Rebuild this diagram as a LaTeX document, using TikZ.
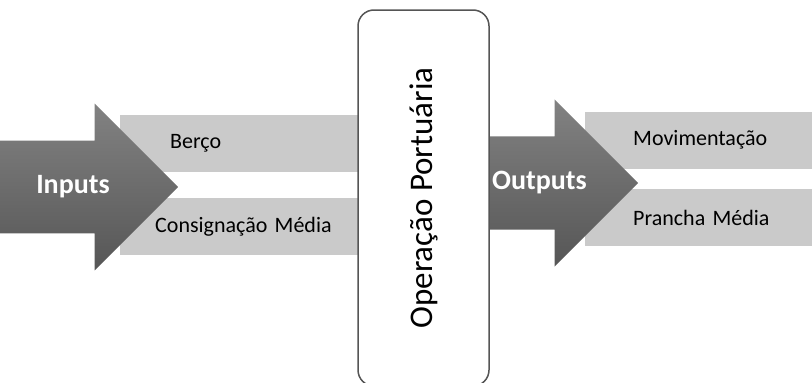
\documentclass[tikz,border=0pt]{standalone}
\usepackage{fontspec}
\setmainfont{Carlito}
\usetikzlibrary{shapes.arrows, positioning}
\definecolor{arrowTop}{RGB}{130,130,130}
\definecolor{arrowBot}{RGB}{86,86,86}
\definecolor{barGray}{RGB}{202,202,202}
\definecolor{boxLine}{RGB}{85,85,85}
\tikzstyle{bigarrow} = [single arrow, single arrow head extend=37pt, inner xsep=0pt,
inner ysep=35pt, top color=arrowTop, bottom color=arrowBot, text=white,
font=\fontsize{28}{32}\selectfont\bfseries]
\tikzstyle{bar} = [rectangle, fill=barGray, minimum height=57pt, anchor=west, align=left,
inner ysep=0pt, font=\fontsize{22}{26}\selectfont]
\tikzstyle{centralbox} = [rectangle, rounded corners=16pt, draw=boxLine, line width=1.5pt,
fill=white, rotate=90, minimum width=376pt, minimum height=131pt,
font=\fontsize{33}{40}\selectfont]

\begin{document}
\begin{tikzpicture}[x=1pt, y=-1pt]
    \useasboundingbox (0,0) rectangle (812,383);

    %Bars
    \node (berco) [bar, inner xsep=50pt, text width=200pt] at (120,143.5) {Berço};
    \node (consig) [bar, inner xsep=35pt, text width=230pt] at (120,226.5) {Consignação Média};
    \node (movim) [bar, inner xsep=48pt, text width=240pt] at (585,140) {Movimentação};
    \node (prancha) [bar, inner xsep=48pt, text width=240pt] at (585,217.5) {Prancha Média};

    %Arrows
    \node (inputs) [bigarrow, minimum height=178pt, anchor=tail] at (0,187) {\hspace*{14pt}Inputs};
    \node (outputs) [bigarrow, minimum height=151pt, anchor=tail] at (487,183) {Outputs};

    %Central box
    \node (porto) [centralbox] at (423.5,198) {Operação Portuária};

\end{tikzpicture}
\end{document}
